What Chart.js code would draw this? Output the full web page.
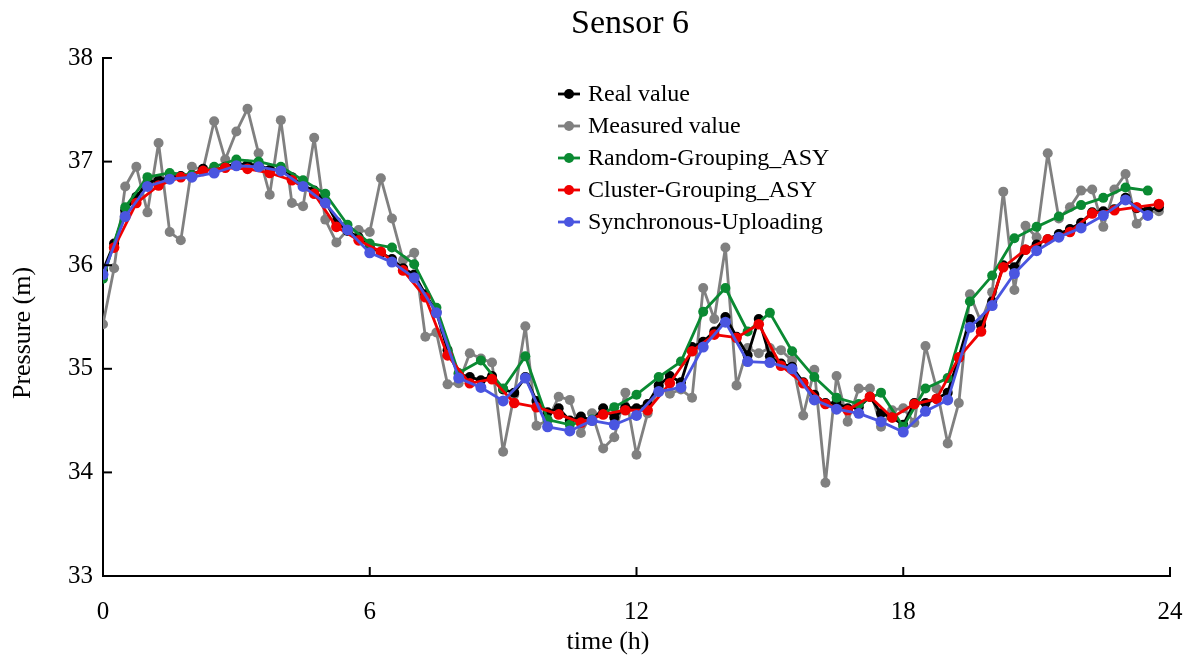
<!DOCTYPE html>
<html><head><meta charset="utf-8">
<script src="https://cdn.jsdelivr.net/npm/chart.js@4.4.0/dist/chart.umd.min.js"></script>
<style>html,body{margin:0;padding:0;background:#fff;}canvas{display:block;}</style>
</head><body>
<canvas id="c" width="1192" height="659"></canvas>
<script>
const timeQuarter = [0,0.25,0.5,0.75,1,1.25,1.5,1.75,2,2.25,2.5,2.75,3,3.25,3.5,3.75,4,4.25,4.5,4.75,5,5.25,5.5,5.75,6,6.25,6.5,6.75,7,7.25,7.5,7.75,8,8.25,8.5,8.75,9,9.25,9.5,9.75,10,10.25,10.5,10.75,11,11.25,11.5,11.75,12,12.25,12.5,12.75,13,13.25,13.5,13.75,14,14.25,14.5,14.75,15,15.25,15.5,15.75,16,16.25,16.5,16.75,17,17.25,17.5,17.75,18,18.25,18.5,18.75,19,19.25,19.5,19.75,20,20.25,20.5,20.75,21,21.25,21.5,21.75,22,22.25,22.5,22.75,23,23.25,23.5,23.75];
const timeHalf = timeQuarter.filter((t, i) => i % 2 === 0);      // 0, 0.5, ... 23.5
const timeHalfShift = timeQuarter.filter((t, i) => i % 2 === 1); // 0.25, 0.75, ... 23.75

const realValue = [35.95,36.21,36.53,36.66,36.80,36.82,36.85,36.86,36.87,36.93,36.92,36.95,36.98,36.97,36.97,36.92,36.92,36.85,36.77,36.72,36.62,36.42,36.33,36.27,36.18,36.12,36.06,35.97,35.91,35.72,35.55,35.18,34.95,34.92,34.89,34.93,34.80,34.77,34.92,34.69,34.58,34.62,34.50,34.54,34.50,34.62,34.53,34.63,34.62,34.66,34.84,34.93,34.87,35.21,35.26,35.36,35.50,35.31,35.13,35.48,35.12,35.05,35.02,34.87,34.75,34.67,34.67,34.62,34.63,34.73,34.57,34.53,34.46,34.67,34.67,34.71,34.77,35.11,35.48,35.42,35.65,36.00,35.98,36.15,36.20,36.25,36.30,36.35,36.41,36.51,36.52,36.54,36.65,36.55,36.53,36.56];
const measuredValue = [35.43,35.97,36.76,36.95,36.51,37.18,36.32,36.24,36.95,36.92,37.39,37.02,37.29,37.51,37.08,36.68,37.40,36.60,36.57,37.23,36.44,36.22,36.34,36.34,36.32,36.84,36.45,36.05,36.12,35.31,35.35,34.85,34.86,35.15,35.10,35.06,34.20,34.75,35.41,34.45,34.50,34.73,34.70,34.38,34.57,34.23,34.34,34.77,34.17,34.57,34.82,34.76,34.80,34.72,35.78,35.48,36.17,34.84,35.20,35.15,35.20,35.18,35.08,34.55,34.99,33.90,34.93,34.49,34.81,34.81,34.44,34.60,34.62,34.48,35.22,34.81,34.28,34.67,35.72,35.45,35.74,36.71,35.76,36.38,36.27,37.08,36.45,36.56,36.72,36.73,36.37,36.73,36.88,36.40,36.51,36.52];
const randomGrouping = [35.87,36.56,36.85,36.89,36.87,36.95,37.02,37.00,36.95,36.82,36.69,36.39,36.21,36.17,36.01,35.59,34.96,35.08,34.81,35.12,34.51,34.46,34.51,34.63,34.75,34.92,35.07,35.55,35.78,35.36,35.54,35.17,34.92,34.72,34.66,34.77,34.44,34.81,34.91,35.65,35.90,36.26,36.37,36.47,36.58,36.65,36.75,36.72];
const clusterGrouping = [36.17,36.60,36.77,36.85,36.91,36.94,36.93,36.89,36.82,36.69,36.37,36.24,36.13,35.95,35.69,35.13,34.86,34.90,34.67,34.63,34.56,34.48,34.56,34.60,34.60,34.86,35.17,35.33,35.30,35.43,35.03,34.86,34.66,34.60,34.73,34.53,34.66,34.71,35.11,35.36,35.98,36.15,36.25,36.32,36.50,36.53,36.56,36.59];
const synchronousUploading = [35.91,36.47,36.76,36.83,36.85,36.89,36.96,36.95,36.91,36.76,36.60,36.34,36.12,36.03,35.88,35.54,34.91,34.82,34.69,34.91,34.44,34.40,34.50,34.46,34.55,34.78,34.82,35.21,35.45,35.07,35.06,35.00,34.70,34.61,34.57,34.49,34.39,34.59,34.70,35.40,35.61,35.92,36.14,36.27,36.36,36.48,36.63,36.48];

const xTicks = [0, 6, 12, 18, 24];
const yTicks = [33, 34, 35, 36, 37, 38];
const seriesNames = ['Real value', 'Measured value', 'Random-Grouping_ASY', 'Cluster-Grouping_ASY', 'Synchronous-Uploading'];
const seriesColors = ['#000000', '#808080', '#0a8a32', '#f00000', '#4a55e0'];

const SERIF = '"Liberation Serif", "Times New Roman", serif';
const pts = (xs, ys) => xs.map((x, i) => ({x: x, y: ys[i]}));

function ds(i, xs, ys, order, r) {
  return {
    label: seriesNames[i], data: pts(xs, ys), order: order,
    borderColor: seriesColors[i], backgroundColor: seriesColors[i],
    pointBackgroundColor: seriesColors[i], pointBorderColor: seriesColors[i],
    borderWidth: 2.8, borderJoinStyle: 'round', borderCapStyle: 'round',
    pointRadius: r, pointBorderWidth: 0, tension: 0, fill: false
  };
}

const decor = {
  id: 'decor',
  afterDraw(chart) {
    const ctx = chart.ctx, a = chart.chartArea;
    const xs = chart.scales.x, ys = chart.scales.y;
    ctx.save();
    // inward tick marks
    ctx.strokeStyle = '#000'; ctx.lineWidth = 2;
    xTicks.forEach(v => { const p = xs.getPixelForValue(v); ctx.beginPath(); ctx.moveTo(p, a.bottom); ctx.lineTo(p, a.bottom - 9); ctx.stroke(); });
    yTicks.forEach(v => { const p = ys.getPixelForValue(v); ctx.beginPath(); ctx.moveTo(a.left, p); ctx.lineTo(a.left + 9, p); ctx.stroke(); });
    // title
    ctx.fillStyle = '#000';
    ctx.textAlign = 'center'; ctx.textBaseline = 'middle';
    ctx.font = '34px ' + SERIF;
    ctx.fillText('Sensor 6', 630, 24);
    // axis titles
    ctx.font = '26px ' + SERIF;
    ctx.fillText('time (h)', 608, 642);
    ctx.save(); ctx.translate(23, 333); ctx.rotate(-Math.PI / 2); ctx.fillText('Pressure (m)', 0, 0); ctx.restore();
    // legend
    ctx.font = '24px ' + SERIF; ctx.textAlign = 'left';
    seriesNames.forEach((n, i) => {
      const y = 94 + i * 32;
      ctx.strokeStyle = seriesColors[i]; ctx.fillStyle = seriesColors[i]; ctx.lineWidth = 2.8;
      ctx.beginPath(); ctx.moveTo(558, y); ctx.lineTo(580, y); ctx.stroke();
      ctx.beginPath(); ctx.arc(569, y, 5, 0, Math.PI * 2); ctx.fill();
      ctx.fillStyle = '#000'; ctx.fillText(n, 588, y + 1);
    });
    ctx.restore();
  }
};

const noGrid = { display: true, drawOnChartArea: false, drawTicks: false, tickLength: 0, color: 'rgba(0,0,0,0)' };

new Chart(document.getElementById('c'), {
  type: 'line',
  data: {
    datasets: [
      ds(0, timeQuarter, realValue, 3, 5),
      ds(1, timeQuarter, measuredValue, 4, 5),
      ds(2, timeHalf, randomGrouping, 2, 5),
      ds(3, timeHalfShift, clusterGrouping, 1, 5.3),
      ds(4, timeHalf, synchronousUploading, 0, 5.5)
    ]
  },
  options: {
    responsive: false, animation: false, devicePixelRatio: 1,
    layout: { padding: { top: 58, right: 22, left: 0, bottom: 0 } },
    plugins: { legend: { display: false }, title: { display: false }, tooltip: { enabled: false } },
    scales: {
      x: {
        type: 'linear', min: 0, max: 24,
        afterBuildTicks: s => { s.ticks = xTicks.map(v => ({value: v})); },
        afterFit: s => { s.height = 83; s.paddingLeft = 0; s.paddingRight = 0; },
        grid: noGrid,
        border: { display: true, color: '#000', width: 2 },
        ticks: { color: '#000', padding: 21, font: { family: SERIF, size: 25 } }
      },
      y: {
        type: 'linear', min: 33, max: 38,
        afterBuildTicks: s => { s.ticks = yTicks.map(v => ({value: v})); },
        afterFit: s => { s.width = 103; s.paddingTop = 0; s.paddingBottom = 0; },
        grid: noGrid,
        border: { display: true, color: '#000', width: 2 },
        ticks: { color: '#000', padding: 10, font: { family: SERIF, size: 25 } }
      }
    }
  },
  plugins: [decor]
});
</script>
</body></html>
